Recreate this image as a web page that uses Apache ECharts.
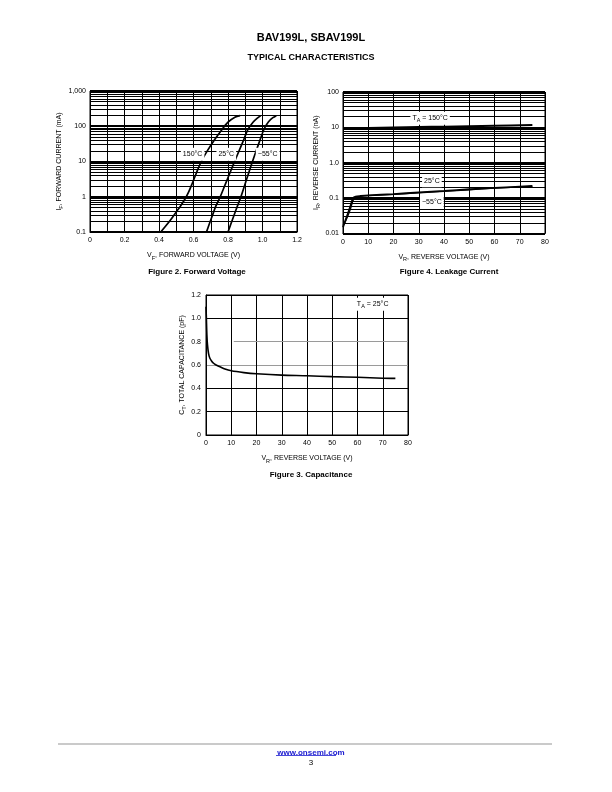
<!DOCTYPE html>
<html><head><meta charset="utf-8">
<script src="https://cdn.jsdelivr.net/npm/echarts@6/dist/echarts.min.js"></script>
<style>html,body{margin:0;padding:0;background:#fff}#c{width:612px;height:792px}</style>
</head><body><div id="c"></div>
<script>
// ---------- DATA ----------
// Figure 2: forward voltage (V) vs forward current (mA)
const fwdV150 = [0.41, 0.44, 0.47, 0.50, 0.525, 0.55, 0.57, 0.59, 0.615, 0.645, 0.68, 0.72, 0.76, 0.80, 0.84, 0.87];
const fwdI150 = [0.1, 0.15, 0.23, 0.37, 0.55, 0.85, 1.3, 2.2, 4.5, 10, 20, 40, 75, 130, 180, 200];
const fwdV25 = [0.675, 0.69, 0.71, 0.73, 0.755, 0.78, 0.805, 0.83, 0.86, 0.89, 0.915, 0.945, 0.97, 0.99];
const fwdI25 = [0.1, 0.16, 0.3, 0.55, 1, 2, 4, 8, 18, 40, 80, 130, 170, 200];
const fwdVm55 = [0.80, 0.815, 0.835, 0.855, 0.875, 0.895, 0.915, 0.935, 0.96, 0.985, 1.01, 1.035, 1.06, 1.08];
const fwdIm55 = [0.1, 0.16, 0.3, 0.55, 1, 2, 4, 8, 18, 40, 85, 135, 175, 200];
const fwdXTicks = ['0', '0.2', '0.4', '0.6', '0.8', '1.0', '1.2'];
const fwdYTicks = ['0.1', '1', '10', '100', '1,000'];
const fwdLabels = ['150°C', '25°C', '\u221255°C'];
const fwdLabelV = [0.595, 0.79, 1.03];
const fwdLabelI = [16, 16, 16];

// Figure 4: leakage current (nA) vs reverse voltage (V)
const lkV150 = [0, 10, 20, 30, 40, 50, 60, 75];
const lkI150 = [9.2, 9.6, 9.9, 10.2, 10.5, 10.8, 11.1, 11.6];
const lkV25 = [0, 1, 2, 3, 4, 5, 7, 10, 20, 30, 40, 50, 60, 75];
const lkI25 = [0.015, 0.024, 0.038, 0.062, 0.1, 0.11, 0.115, 0.12, 0.13, 0.145, 0.16, 0.178, 0.195, 0.22];
const lkVm55 = [0, 1, 2, 3, 4, 5, 7, 10, 20, 30, 40, 50, 60, 75];
const lkIm55 = [0.017, 0.022, 0.032, 0.05, 0.085, 0.105, 0.112, 0.117, 0.127, 0.14, 0.155, 0.172, 0.19, 0.215];
const lkYTicks = ['0.01', '0.1', '1.0', '10', '100'];
const lkLabels = ['T{s|A} = 150°C', '25°C', '\u221255°C'];
const lkLabelV = [34.5, 35.2, 35.2];
const lkLabelI = [18, 0.31, 0.079];

// Figure 3: capacitance (pF) vs reverse voltage (V)
const capV = [0, 0.15, 0.35, 0.6, 1, 1.5, 2.2, 3, 4, 5.5, 7.5, 10, 15, 20, 30, 40, 50, 60, 70, 75];
const capC = [1.1, 1.0, 0.86, 0.77, 0.7, 0.66, 0.635, 0.615, 0.6, 0.585, 0.565, 0.55, 0.535, 0.525, 0.513, 0.508, 0.5, 0.495, 0.487, 0.485];
const capYTicks = ['0', '0.2', '0.4', '0.6', '0.8', '1.0', '1.2'];
const capLabel = 'T{s|A} = 25°C';
const capLabelPos = [66, 1.12];

// ---------- HELPERS ----------
const FONT = '"Liberation Sans", Arial, Helvetica, sans-serif';
const zip = (a, b) => a.map((v, i) => [v, b[i]]);
function logMinors(lo, hi) { // minor gridline values 2..9 within each decade
  const out = [];
  for (let d = lo; d < hi * 0.999; d *= 10) for (let k = 2; k <= 9; k++) out.push(+(d * k).toPrecision(3));
  return out;
}
const rich = { s: { fontSize: 5.5, verticalAlign: 'bottom', lineHeight: 11, fontFamily: FONT, color: '#000' } };
const tickText = { color: '#000', fontSize: 7, fontFamily: FONT };
function nameStyle() { return { color: '#000', fontSize: 7, fontFamily: FONT, lineHeight: 11, rich: rich }; }
function curve(xi, yi, data, w) {
  return { type: 'line', xAxisIndex: xi, yAxisIndex: yi, data: data, smooth: 0.3, showSymbol: false,
    lineStyle: { color: '#000', width: w, opacity: 1 }, z: 5, silent: true, animation: false };
}
function minorLines(xi, yi, vals, w) {
  return { type: 'line', xAxisIndex: xi, yAxisIndex: yi, data: [], z: 2, silent: true, animation: false,
    markLine: { silent: true, symbol: ['none', 'none'], label: { show: false }, animation: false,
      lineStyle: { color: '#000', width: w, type: 'solid', opacity: 1 }, data: vals.map(v => ({ yAxis: v })) } };
}
function textLabels(xi, yi, xs, ys, texts) {
  return { type: 'scatter', xAxisIndex: xi, yAxisIndex: yi, symbolSize: 0, z: 8, silent: true, animation: false,
    itemStyle: { opacity: 1 },
    data: xs.map((x, i) => ({ value: [x, ys[i]], label: { formatter: texts[i] } })),
    label: { show: true, position: 'inside', color: '#000', fontSize: 7, fontFamily: FONT, backgroundColor: '#fff',
      padding: [1, 2, 1, 2], lineHeight: 11, rich: rich } };
}

const chart = echarts.init(document.getElementById('c'), null, { renderer: 'canvas' });
const option = {
  animation: false,
  backgroundColor: '#fff',
  title: [
    { text: 'BAV199L, SBAV199L', left: 306, top: 27, textAlign: 'center', textStyle: { fontSize: 11, fontWeight: 'bold', color: '#000', fontFamily: FONT } },
    { text: 'TYPICAL CHARACTERISTICS', left: 306, top: 48, textAlign: 'center', textStyle: { fontSize: 9, fontWeight: 'bold', color: '#000', fontFamily: FONT } },
    { text: 'Figure 2. Forward Voltage', left: 192, top: 263, textAlign: 'center', textStyle: { fontSize: 8, fontWeight: 'bold', color: '#000', fontFamily: FONT } },
    { text: 'Figure 4. Leakage Current', left: 444, top: 263, textAlign: 'center', textStyle: { fontSize: 8, fontWeight: 'bold', color: '#000', fontFamily: FONT } },
    { text: 'Figure 3. Capacitance', left: 306, top: 466, textAlign: 'center', textStyle: { fontSize: 8, fontWeight: 'bold', color: '#000', fontFamily: FONT } },
    { text: 'www.onsemi.com', left: 306, top: 744, textAlign: 'center', textStyle: { fontSize: 8, fontWeight: 'bold', color: '#1a1ad0', fontFamily: FONT } },
    { text: '3', left: 306, top: 754, textAlign: 'center', textStyle: { fontSize: 8, fontWeight: 'normal', color: '#000', fontFamily: FONT } }
  ],
  graphic: [
    { type: 'line', shape: { x1: 58, y1: 744, x2: 552, y2: 744 }, style: { stroke: '#b8b8b8', lineWidth: 1.5 } },
    { type: 'line', shape: { x1: 276, y1: 755.5, x2: 336, y2: 755.5 }, style: { stroke: '#1a1ad0', lineWidth: 0.8 } }
  ],
  grid: [
    { left: 90, top: 91, width: 207, height: 141, show: true, borderColor: '#000', borderWidth: 1, backgroundColor: 'transparent' },
    { left: 343, top: 92, width: 202, height: 141.5, show: true, borderColor: '#000', borderWidth: 1, backgroundColor: 'transparent' },
    { left: 206, top: 295, width: 202, height: 140, show: true, borderColor: '#000', borderWidth: 1, backgroundColor: 'transparent' }
  ],
  xAxis: [
    { gridIndex: 0, type: 'value', min: 0, max: 1.2, interval: 0.1,
      name: 'V{s|F}, FORWARD VOLTAGE (V)', nameLocation: 'middle', nameGap: 18, nameTextStyle: nameStyle(),
      axisLine: { show: true, lineStyle: { color: '#000', width: 1 } }, axisTick: { show: false },
      axisLabel: Object.assign({ margin: 5, formatter: (v) => { const k = Math.round(v * 10); return k % 2 ? '' : fwdXTicks[k / 2]; } }, tickText),
      splitLine: { show: true, lineStyle: { color: '#000', width: 1 } } },
    { gridIndex: 1, type: 'value', min: 0, max: 80, interval: 10,
      name: 'V{s|R}, REVERSE VOLTAGE (V)', nameLocation: 'middle', nameGap: 18, nameTextStyle: nameStyle(),
      axisLine: { show: true, lineStyle: { color: '#000', width: 1 } }, axisTick: { show: false },
      axisLabel: Object.assign({ margin: 5 }, tickText),
      splitLine: { show: true, lineStyle: { color: '#000', width: 1 } } },
    { gridIndex: 2, type: 'value', min: 0, max: 80, interval: 10,
      name: 'V{s|R}, REVERSE VOLTAGE (V)', nameLocation: 'middle', nameGap: 18, nameTextStyle: nameStyle(),
      axisLine: { show: true, lineStyle: { color: '#000', width: 1 } }, axisTick: { show: false },
      axisLabel: Object.assign({ margin: 5 }, tickText),
      splitLine: { show: true, lineStyle: { color: '#000', width: 1 } } }
  ],
  yAxis: [
    { gridIndex: 0, type: 'log', logBase: 10, min: 0.1, max: 1000,
      name: 'I{s|F}, FORWARD CURRENT (mA)', nameLocation: 'middle', nameGap: 17, nameRotate: 90, nameTextStyle: nameStyle(),
      axisLine: { show: true, lineStyle: { color: '#000', width: 1 } }, axisTick: { show: false },
      axisLabel: Object.assign({ margin: 4, formatter: (v, i) => fwdYTicks[Math.round(Math.log10(v)) + 1] }, tickText),
      splitLine: { show: true, lineStyle: { color: '#000', width: 2 } } },
    { gridIndex: 1, type: 'log', logBase: 10, min: 0.01, max: 100,
      name: 'I{s|R}, REVERSE CURRENT (nA)', nameLocation: 'middle', nameGap: 18, nameRotate: 90, nameTextStyle: nameStyle(),
      axisLine: { show: true, lineStyle: { color: '#000', width: 1 } }, axisTick: { show: false },
      axisLabel: Object.assign({ margin: 4, formatter: (v, i) => lkYTicks[Math.round(Math.log10(v)) + 2] }, tickText),
      splitLine: { show: true, lineStyle: { color: '#000', width: 2 } } },
    { gridIndex: 2, type: 'value', min: 0, max: 1.2, interval: 0.2,
      name: 'C{s|T}, TOTAL CAPACITANCE (pF)', nameLocation: 'middle', nameGap: 18, nameRotate: 90, nameTextStyle: nameStyle(),
      axisLine: { show: true, lineStyle: { color: '#000', width: 1 } }, axisTick: { show: false },
      axisLabel: Object.assign({ margin: 5, formatter: (v) => capYTicks[Math.round(v * 5)] }, tickText),
      splitLine: { show: true, lineStyle: { color: ['#000', '#000', '#000', '#9a9a9a', 'rgba(0,0,0,0)', '#000', '#000'], width: 1 } } }
  ],
  series: [
    minorLines(0, 0, logMinors(0.1, 1000), 1),
    curve(0, 0, zip(fwdV150, fwdI150), 1.7),
    curve(0, 0, zip(fwdV25, fwdI25), 1.7),
    curve(0, 0, zip(fwdVm55, fwdIm55), 1.7),
    textLabels(0, 0, fwdLabelV, fwdLabelI, fwdLabels),

    minorLines(1, 1, logMinors(0.01, 100), 1),
    curve(1, 1, zip(lkV150, lkI150), 2),
    curve(1, 1, zip(lkV25, lkI25), 1.8),
    curve(1, 1, zip(lkVm55, lkIm55), 1.2),
    textLabels(1, 1, lkLabelV, lkLabelI, lkLabels),

    { type: 'line', xAxisIndex: 2, yAxisIndex: 2, data: [], z: 2, silent: true,
      markLine: { silent: true, symbol: ['none', 'none'], label: { show: false },
        lineStyle: { color: '#9a9a9a', width: 1, type: 'solid' },
        data: [[{ coord: [11, 0.8] }, { coord: [80, 0.8] }]] } },
    curve(2, 2, zip(capV, capC), 1.6),
    textLabels(2, 2, [capLabelPos[0]], [capLabelPos[1]], [capLabel])
  ]
};
chart.setOption(option);
</script>
</body></html>
